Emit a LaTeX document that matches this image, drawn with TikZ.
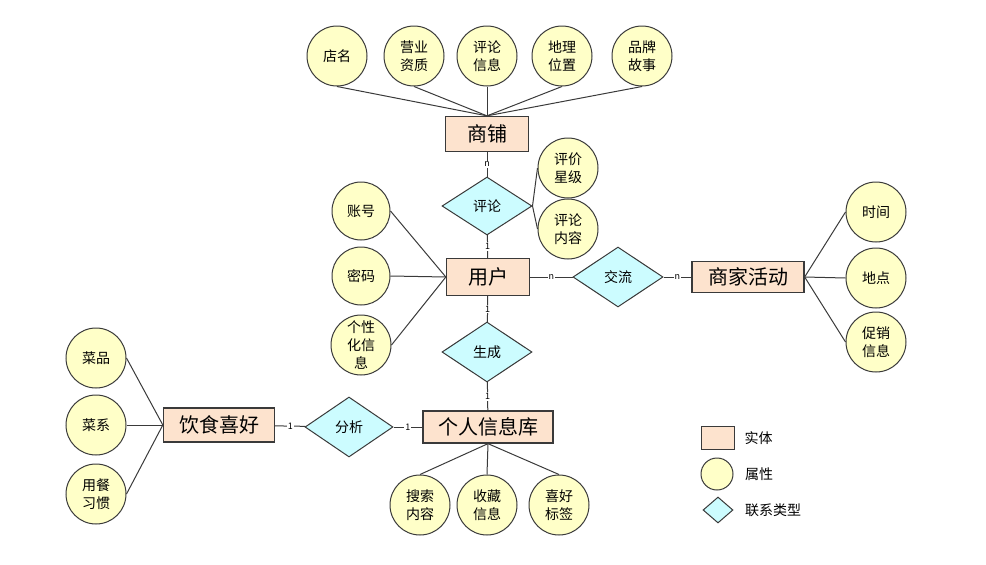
\documentclass[tikz,border=0pt]{standalone}
\usepackage{fontspec}
\setmainfont{Noto Sans CJK SC}
\usepackage{xcolor}
\usepackage{tikz}
\usetikzlibrary{shapes.geometric}
\usetikzlibrary{positioning}

\definecolor{entfill}{HTML}{FDE3CE}
\definecolor{attrfill}{HTML}{FFFFC8}
\definecolor{relfill}{HTML}{CCFCFF}
\definecolor{edgegray}{HTML}{3A3A3A}

\begin{document}
\begin{tikzpicture}[x=1pt, y=-1pt,
    entity/.style={draw=edgegray, fill=entfill, line width=1.3pt, minimum width=83pt, minimum height=35pt, inner sep=0pt, font=\fontsize{20}{24}\selectfont},
    attr/.style={draw=edgegray, fill=attrfill, circle, line width=1pt, minimum size=60pt, inner sep=0pt, align=center, font=\fontsize{14}{18}\selectfont},
    rel/.style={draw=edgegray, fill=relfill, diamond, line width=1pt, minimum width=90pt, minimum height=58pt, inner sep=0pt, font=\fontsize{14}{18}\selectfont},
    card/.style={fill=white, inner sep=1pt, font=\fontsize{9}{9}\selectfont},
    conn/.style={draw=edgegray, line width=1pt}]
            \useasboundingbox (0,0) rectangle (986,565);

            % entities
            \draw (487,134) node[entity]                        (shop) {商铺};
            \draw (488,277) node[entity, minimum height=37pt]   (user) {用户};
            \draw (748,277) node[entity, minimum width=112pt, minimum height=31pt] (act) {商家活动};
            \draw (488,427) node[entity, minimum width=130pt, minimum height=32pt] (info) {个人信息库};
            \draw (219,425) node[entity, minimum width=111pt, minimum height=34pt] (pref) {饮食喜好};

            % relations
            \draw (487,206) node[rel]                           (cmt) {评论};
            \draw (618,277) node[rel, minimum height=60pt]      (chat) {交流};
            \draw (487,352) node[rel, minimum height=60pt]      (gen) {生成};
            \draw (349,427) node[rel, minimum width=88pt, minimum height=60pt] (ana) {分析};

            % attributes of shop
            \draw (337,56) node[attr]                 (sname) {店名};
            \draw (414,56) node[attr]                 (lic) {营业\\资质};
            \draw (487,56) node[attr]                 (rinfo) {评论\\信息};
            \draw (562,56) node[attr]                 (loc) {地理\\位置};
            \draw (642,56) node[attr]                 (story) {品牌\\故事};

            % attributes of comment
            \draw (568,168) node[attr]                (star) {评价\\星级};
            \draw (568,229) node[attr]                (text) {评论\\内容};

            % attributes of user
            \draw (361,211) node[attr, minimum size=58pt] (acc) {账号};
            \draw (361,276) node[attr, minimum size=58pt] (pwd) {密码};
            \draw (361,345) node[attr]                (pers) {个性\\化信\\息};

            % attributes of activity
            \draw (876,212) node[attr]                (time) {时间};
            \draw (876,278) node[attr]                (place) {地点};
            \draw (876,342) node[attr]                (promo) {促销\\信息};

            % attributes of preference
            \draw (96,358) node[attr]                 (dish) {菜品};
            \draw (96,425) node[attr]                 (cuis) {菜系};
            \draw (96,494) node[attr]                 (habit) {用餐\\习惯};

            % attributes of info base
            \draw (420,505) node[attr]                (search) {搜索\\内容};
            \draw (487,505) node[attr]                (fav) {收藏\\信息};
            \draw (559,505) node[attr]                (tag) {喜好\\标签};

            % attribute lines
            \draw[conn] (sname.south) -- (shop.north);
            \draw[conn] (lic.south) -- (shop.north);
            \draw[conn] (rinfo.south) -- (shop.north);
            \draw[conn] (loc.south) -- (shop.north);
            \draw[conn] (story.south) -- (shop.north);
            \draw[conn] (cmt.east) -- (star.west);
            \draw[conn] (cmt.east) -- (text.west);
            \draw[conn] (acc.east) -- (user.west);
            \draw[conn] (pwd.east) -- (user.west);
            \draw[conn] (pers.east) -- (user.west);
            \draw[conn] (act.east) -- (time.west);
            \draw[conn] (act.east) -- (place.west);
            \draw[conn] (act.east) -- (promo.west);
            \draw[conn] (dish.east) -- (pref.west);
            \draw[conn] (cuis.east) -- (pref.west);
            \draw[conn] (habit.east) -- (pref.west);
            \draw[conn] (search.north) -- (info.south);
            \draw[conn] (fav.north) -- (info.south);
            \draw[conn] (tag.north) -- (info.south);

            % relation lines
            \draw[conn] (shop) -- node[card] {n} (cmt);
            \draw[conn] (cmt) -- node[card] {1} (user);
            \draw[conn] (user) -- node[card] {n} (chat);
            \draw[conn] (chat) -- node[card] {n} (act);
            \draw[conn] (user) -- node[card] {1} (gen);
            \draw[conn] (gen) -- node[card] {1} (info);
            \draw[conn] (info) -- node[card] {1} (ana);
            \draw[conn] (ana) -- node[card] {1} (pref);

            % legend
            \draw (718,438) node[entity, minimum width=33pt, minimum height=23pt] (lgent) {};
            \draw (717,474) node[attr, minimum size=32pt]  (lgattr) {};
            \draw (718,510) node[rel, minimum width=30pt, minimum height=26pt] (lgrel) {};
            \node[right=6pt of lgent, font=\fontsize{14}{18}\selectfont]  (lgentt) {实体};
            \node[right=8pt of lgattr, font=\fontsize{14}{18}\selectfont] (lgattrt) {属性};
            \node[right=8pt of lgrel, font=\fontsize{14}{18}\selectfont]  (lgrelt) {联系类型};

            \end{tikzpicture}
\end{document}
